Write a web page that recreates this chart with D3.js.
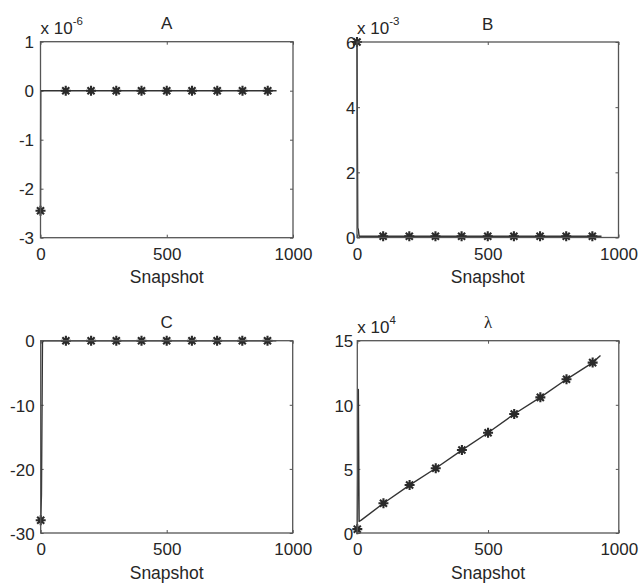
<!DOCTYPE html>
<html>
<head>
<meta charset="utf-8">
<script src="https://cdn.jsdelivr.net/npm/d3@7"></script>
<style>
  body { margin: 0; background: #fff; }
  text { font-family: "Liberation Sans", Arial, sans-serif; fill: #262626; }
</style>
</head>
<body>
<svg id="fig" width="640" height="583"></svg>
<script>
// ---- shared snapshot axis ----
const xDomain = [0, 1000];
const xTicks = [0, 500, 1000];
const markerSnapshots = [0, 100, 200, 300, 400, 500, 600, 700, 800, 900];

// ---- A (values in units of 1e-6) ----
const aLineSnap = [0, 1, 935];
const aLineVals = [-2.45, 0, 0];
const aMarkerVals = [-2.45, 0, 0, 0, 0, 0, 0, 0, 0, 0];
const aTicks = [-3, -2, -1, 0, 1];

// ---- B (values in units of 1e-3) ----
const bLineSnap = [0, 3, 5, 8, 935];
const bLineVals = [6, 0.3, 0.25, 0.04, 0.04];
const bMarkerVals = [6, 0.04, 0.04, 0.04, 0.04, 0.04, 0.04, 0.04, 0.04, 0.04];
const bTicks = [0, 2, 4, 6];

// ---- C ----
const cLineSnap = [0, 3, 7, 10, 935];
const cLineVals = [-28, -24, -0.3, 0, 0];
const cMarkerVals = [-28, 0, 0, 0, 0, 0, 0, 0, 0, 0];
const cTicks = [-30, -20, -10, 0];

// ---- lambda (values in units of 1e4) ----
const dLineSnap = [0, 4, 7, 15, 100, 200, 300, 400, 500, 600, 700, 800, 900, 930];
const dLineVals = [0.3, 11.2, 0.9, 1.0, 2.32, 3.74, 5.05, 6.47, 7.82, 9.28, 10.58, 11.99, 13.29, 13.85];
const dMarkerVals = [0.3, 2.32, 3.74, 5.05, 6.47, 7.82, 9.28, 10.58, 11.99, 13.29];
const dTicks = [0, 5, 10, 15];

const panels = [
  { title: "A", exp: "-6", lineSnap: aLineSnap, lineVals: aLineVals, markers: aMarkerVals,
    yDomain: [-3, 1], yTicks: aTicks, box: [40.5, 293, 41.7, 237.7], labelGap: 6.5 },
  { title: "B", exp: "-3", lineSnap: bLineSnap, lineVals: bLineVals, markers: bMarkerVals,
    yDomain: [0, 6], yTicks: bTicks, box: [357, 618.5, 42, 237.5], labelGap: 1.5 },
  { title: "C", exp: null, lineSnap: cLineSnap, lineVals: cLineVals, markers: cMarkerVals,
    yDomain: [-30, 0], yTicks: cTicks, box: [40.7, 292.7, 340.7, 533], labelGap: 6 },
  { title: "\u03bb", exp: "4", lineSnap: dLineSnap, lineVals: dLineVals, markers: dMarkerVals,
    yDomain: [0, 15], yTicks: dTicks, box: [357.3, 618.8, 340.7, 533], labelGap: 4, serifTitle: true }
];

const svg = d3.select("#fig");
const FONT = 17;
const axisColor = "#555";
const lineColor = "#333";
// plain hyphen for negative tick labels
const tickFmt = v => String(v);

// eight-armed asterisk marker
function asterisk(cx, cy, r) {
  const d = r * Math.SQRT1_2;
  return `M${cx - r},${cy}L${cx + r},${cy}M${cx},${cy - r}L${cx},${cy + r}` +
         `M${cx - d},${cy - d}L${cx + d},${cy + d}M${cx - d},${cy + d}L${cx + d},${cy - d}`;
}

panels.forEach(p => {
  const [x0, x1, y0, y1] = p.box;
  const x = d3.scaleLinear().domain(xDomain).range([x0, x1]);
  const y = d3.scaleLinear().domain(p.yDomain).range([y1, y0]);
  const g = svg.append("g");

  // tick marks on all four sides, pointing inward
  const tickLen = 3;
  const styleAxis = sel => {
    sel.select(".domain").remove();
    sel.selectAll(".tick line").attr("stroke", axisColor).attr("stroke-width", 1);
    sel.selectAll(".tick text").attr("fill", "#262626")
      .style("font-family", '"Liberation Sans", Arial, sans-serif')
      .style("font-size", FONT + "px");
  };

  g.append("g").attr("transform", `translate(0,${y1})`)
    .call(d3.axisBottom(x).tickValues(xTicks).tickSize(-tickLen).tickPadding(10).tickFormat(tickFmt))
    .call(styleAxis);
  g.append("g").attr("transform", `translate(0,${y0})`)
    .call(d3.axisTop(x).tickValues(xTicks).tickSize(-tickLen).tickFormat(""))
    .call(styleAxis);
  g.append("g").attr("transform", `translate(${x0},0)`)
    .call(d3.axisLeft(y).tickValues(p.yTicks).tickSize(-tickLen).tickPadding(p.labelGap).tickFormat(tickFmt))
    .call(styleAxis)
    .selectAll(".tick text").attr("dy", "0.37em");
  g.append("g").attr("transform", `translate(${x1},0)`)
    .call(d3.axisRight(y).tickValues(p.yTicks).tickSize(-tickLen).tickFormat(""))
    .call(styleAxis);

  // data line
  const pts = p.lineSnap.map((s, i) => [s, p.lineVals[i]]);
  g.append("path")
    .datum(pts)
    .attr("fill", "none")
    .attr("stroke", lineColor)
    .attr("stroke-width", 1.4)
    .attr("stroke-linejoin", "round")
    .attr("d", d3.line().x(d => x(d[0])).y(d => y(d[1])));

  // asterisk markers
  g.append("g").selectAll("path")
    .data(markerSnapshots.map((s, i) => [s, p.markers[i]]))
    .join("path")
    .attr("d", d => asterisk(x(d[0]), y(d[1]), 5))
    .attr("fill", "none")
    .attr("stroke", "#2a2a2a")
    .attr("stroke-width", 2.1);

  // axes box
  g.append("rect")
    .attr("x", x0).attr("y", y0)
    .attr("width", x1 - x0).attr("height", y1 - y0)
    .attr("fill", "none")
    .attr("stroke", axisColor)
    .attr("stroke-width", 1.3);

  // title
  g.append("text")
    .attr("x", (x0 + x1) / 2)
    .attr("y", y0 - 12.5)
    .attr("text-anchor", "middle")
    .style("font-size", FONT + "px")
    .style("font-family", p.serifTitle ? '"Liberation Serif", serif' : null)
    .text(p.title);

  // x label
  g.append("text")
    .attr("x", (x0 + x1) / 2)
    .attr("y", y1 + 45.5)
    .attr("text-anchor", "middle")
    .style("font-size", "17.5px")
    .text("Snapshot");

  // exponent annotation
  if (p.exp) {
    const t = g.append("text")
      .attr("x", x0)
      .attr("y", y0 - 7.7)
      .style("font-size", FONT + "px")
      .text("x 10");
    t.append("tspan")
      .attr("dy", -9.5)
      .style("font-size", "11.5px")
      .text(p.exp);
  }
});
</script>
</body>
</html>
